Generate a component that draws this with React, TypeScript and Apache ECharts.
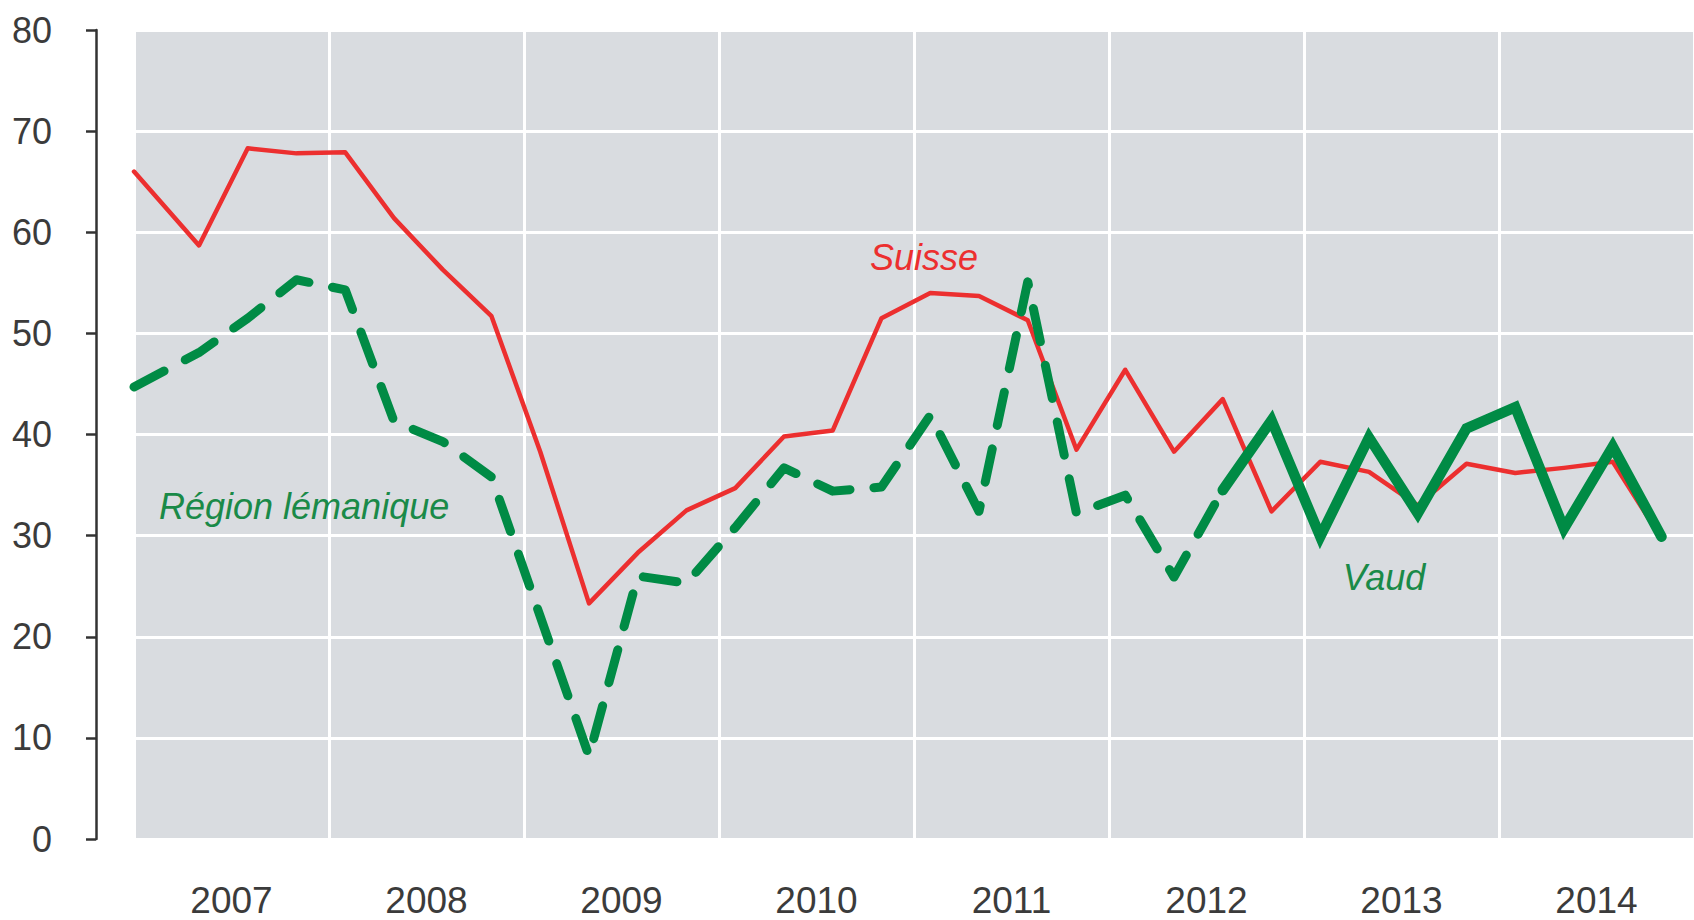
import React, { useEffect, useRef } from "react";
import * as echarts from "echarts";

// Position of each quarterly observation, in months since January 2007
const quarterMonths = [0, 4, 7, 10, 13, 16, 19, 22, 25, 28, 31, 34, 37, 40, 43, 46, 49, 52, 55, 58, 61, 64, 67, 70, 73, 76, 79, 82, 85, 88, 91, 94];

const years = ["2007", "2008", "2009", "2010", "2011", "2012", "2013", "2014"];

const suisse = [66.0, 58.7, 68.3, 67.8, 67.9, 61.4, 56.3, 51.7, 38.3, 23.3, 28.3, 32.5, 34.7, 39.8, 40.4, 51.5, 54.0, 53.7, 51.3, 38.5, 46.4, 38.3, 43.5, 32.4, 37.3, 36.3, 33.0, 37.1, 36.2, 36.7, 37.3, 29.7];

// Région lémanique: quarters 0..22
const regionLemanique = [44.7, 48.1, 51.5, 55.3, 54.3, 41.3, 39.3, 35.8, 22.0, 8.2, 26.0, 25.3, 30.8, 36.7, 34.4, 34.8, 41.9, 32.4, 55.1, 32.2, 34.0, 25.9, 34.5];

// Vaud: quarters 22..31
const vaud = [34.5, 41.4, 29.9, 39.7, 32.2, 40.6, 42.7, 30.7, 38.8, 29.9];
const vaudStart = 22;

const yTicks = { min: 0, max: 80, interval: 10 };

const RED = "#ec2f2f";
const GREEN = "#008b45";
const FONT = "'Liberation Sans', Arial, sans-serif";

export default function App() {
  const ref = useRef<HTMLDivElement>(null);

  useEffect(() => {
    if (!ref.current) return;
    const chart = echarts.init(ref.current, undefined, { renderer: "svg" });

    const suisseData = suisse.map((v, i) => [quarterMonths[i], v]);
    const regionData = regionLemanique.map((v, i) => [quarterMonths[i], v]);
    const vaudData = vaud.map((v, i) => [quarterMonths[vaudStart + i], v]);

    chart.setOption({
      animation: false,
      backgroundColor: "#ffffff",
      grid: {
        left: 134,
        top: 30,
        width: 1562,
        height: 809,
        show: true,
        backgroundColor: "#d9dce0",
        borderWidth: 0,
        containLabel: false,
      },
      xAxis: [
        {
          type: "value",
          min: 0,
          max: 96,
          interval: 12,
          axisLine: { show: false, onZero: false },
          axisTick: { show: false },
          axisLabel: { show: false },
          splitLine: { show: true, lineStyle: { color: "#ffffff", width: 3 } },
        },
        {
          type: "category",
          data: years,
          position: "bottom",
          boundaryGap: true,
          axisLine: { show: false, onZero: false },
          axisTick: { show: false },
          splitLine: { show: false },
          axisLabel: {
            fontSize: 37,
            lineHeight: 38,
            color: "#3b3b3b",
            fontFamily: FONT,
            margin: 42,
          },
        },
      ],
      yAxis: {
        type: "value",
        min: yTicks.min,
        max: yTicks.max,
        interval: yTicks.interval,
        offset: 38,
        axisLine: { show: true, onZero: false, lineStyle: { color: "#333333", width: 2.5 } },
        axisTick: { show: true, length: 10, lineStyle: { color: "#333333", width: 2.5 } },
        axisLabel: {
          fontSize: 36,
          color: "#3b3b3b",
          fontFamily: FONT,
          margin: 44,
        },
        splitLine: { show: true, lineStyle: { color: "#ffffff", width: 3 } },
      },
      series: [
        {
          name: "Suisse",
          type: "line",
          xAxisIndex: 0,
          data: suisseData,
          showSymbol: false,
          lineStyle: { color: RED, width: 4.5, cap: "round", join: "round" },
          z: 3,
        },
        {
          name: "Région lémanique",
          type: "line",
          xAxisIndex: 0,
          data: regionData,
          showSymbol: false,
          lineStyle: { color: GREEN, width: 9, type: [34, 24], cap: "round", join: "round" },
          z: 4,
        },
        {
          name: "Vaud",
          type: "line",
          xAxisIndex: 0,
          data: vaudData,
          showSymbol: false,
          lineStyle: { color: GREEN, width: 10.5, cap: "round", join: "miter" },
          z: 5,
        },
      ],
      graphic: [
        {
          type: "text",
          x: 924,
          y: 257,
          style: {
            text: "Suisse",
            fill: RED,
            font: `italic 36px ${FONT}`,
            align: "center",
            verticalAlign: "middle",
          },
          z: 10,
        },
        {
          type: "text",
          x: 159,
          y: 506,
          style: {
            text: "Région lémanique",
            fill: "#1a8a48",
            font: `italic 36px ${FONT}`,
            align: "left",
            verticalAlign: "middle",
          },
          z: 10,
        },
        {
          type: "text",
          x: 1384,
          y: 577,
          style: {
            text: "Vaud",
            fill: "#1a8a48",
            font: `italic 36px ${FONT}`,
            align: "center",
            verticalAlign: "middle",
          },
          z: 10,
        },
      ],
    });

    return () => {
      chart.dispose();
    };
  }, []);

  return (
    <div
      ref={ref}
      style={{ position: "absolute", left: 0, top: 0, width: 1694, height: 920, overflow: "hidden" }}
    />
  );
}
